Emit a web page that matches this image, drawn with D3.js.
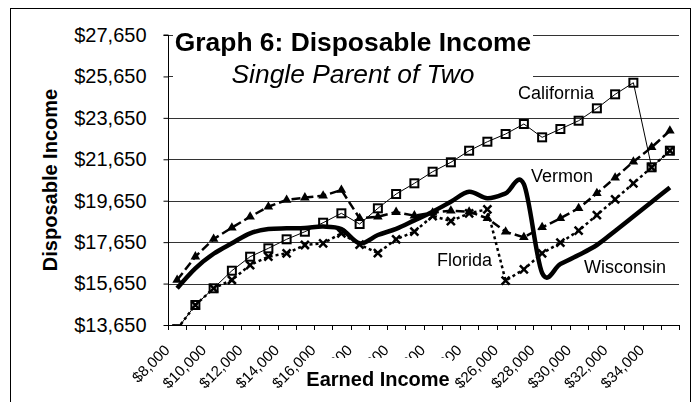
<!DOCTYPE html>
<html><head><meta charset="utf-8">
<script src="https://cdn.jsdelivr.net/npm/d3@7"></script>
<style>
html,body{margin:0;padding:0;background:#fff;}
svg{display:block;font-family:"Liberation Sans",Arial,sans-serif;}
.xl{opacity:0.999;will-change:transform;}
</style></head>
<body><svg id="c" width="698" height="402"></svg>
<script>
// ---- data ----
const categories = d3.range(8000, 35001, 1000);
const xTickLabels = ["$8,000","$10,000","$12,000","$14,000","$16,000","$18,000","$20,000","$22,000","$24,000","$26,000","$28,000","$30,000","$32,000","$34,000"];
const yTicks = [13650,15650,17650,19650,21650,23650,25650,27650];
const california = [13450,14615,15422,16271,16947,17352,17787,18153,18588,19042,18525,19283,19973,20490,21050,21504,22064,22498,22870,23353,22710,23111,23512,24110,24786,25346,21263,22064];
const vermont    = [15822,16950,17800,18347,18878,19360,19684,19800,19891,20166,18800,18878,19100,18930,19071,19168,19120,18800,18153,17883,18366,18800,19283,20007,20760,21533,22228,23029];
const florida    = [13450,14615,15422,15822,16546,16947,17111,17512,17594,18076,17530,17125,17787,18153,18911,18670,19042,19235,15788,16339,17111,17622,18201,18959,19717,20490,21263,22064];
const wisconsin  = [15422,16387,17090,17594,18076,18284,18316,18330,18400,18280,17594,17995,18290,18700,19120,19600,20084,19766,20007,20450,16160,16595,17029,17512,18192,18890,19590,20290];
const seriesLabels = ["California","Vermon","Florida","Wisconsin"];

const svg = d3.select("#c");
const L=168, R=679, T=35, B=325;
const x = d3.scaleBand().domain(categories).range([L,R]).padding(0);
const cx = d => x(d) + x.bandwidth()/2;
const y = d3.scaleLinear().domain([13650,27650]).range([B,T]);

// outer frame
svg.append("rect").attr("x",10.5).attr("y",8.5).attr("width",680).attr("height",420)
  .attr("fill","none").attr("stroke","#000").attr("stroke-width",1);

// gridlines
svg.append("g").selectAll("line").data(yTicks.slice(1)).join("line")
  .attr("x1",L).attr("x2",R).attr("y1",d=>Math.round(y(d))+0.5).attr("y2",d=>Math.round(y(d))+0.5)
  .attr("stroke","#333").attr("stroke-width",1);

// y axis
const yAxis = d3.axisLeft(y).tickValues(yTicks).tickSize(5).tickPadding(17)
  .tickFormat(d=>"$"+d3.format(",")(d));
const ga = svg.append("g").attr("transform",`translate(${L+0.5},0)`).call(yAxis);
ga.select(".domain").attr("stroke","#000").attr("d",`M-5,${T}H0V${B}`);
ga.selectAll("text").attr("font-size",20).attr("font-family","Liberation Sans, Arial, sans-serif").attr("fill","#000");
ga.selectAll("line").attr("stroke","#000");

// x axis
const gx = svg.append("g");
gx.append("line").attr("x1",L).attr("x2",R).attr("y1",B+0.5).attr("y2",B+0.5).attr("stroke","#000");
const bounds = categories.map(c=>x(c)).concat([x.range()[1]]);
gx.selectAll("line.tk").data(bounds).join("line").attr("class","tk")
  .attr("x1",d=>Math.round(d)+0.5).attr("x2",d=>Math.round(d)+0.5).attr("y1",B).attr("y2",B+5)
  .attr("stroke","#000");
const labelCats = categories.filter((c,i)=>i%2===0);
gx.append("g").attr("class","xl").selectAll("text").data(labelCats).join("text")
  .attr("transform",(d)=>`translate(${cx(d)-6.5},351) rotate(-45)`)
  .attr("text-anchor","end").attr("font-size",15).attr("fill","#000")
  .text((d,i)=>xTickLabels[i]);

// plot
const plot = svg.append("g");
svg.append("clipPath").attr("id","clip").append("rect").attr("x",L).attr("y",T-20).attr("width",R-L+10).attr("height",B-T+20);
plot.attr("clip-path","url(#clip)");

const lineLin = d3.line().x((d,i)=>cx(categories[i])).y(d=>y(d));
const lineSmooth = d3.line().x((d,i)=>cx(categories[i])).y(d=>y(d)).curve(d3.curveCardinal.tension(0));

// California
plot.append("path").attr("d",lineLin(california)).attr("fill","none").attr("stroke","#000").attr("stroke-width",1);
plot.append("g").selectAll("rect").data(california).join("rect")
  .attr("x",(d,i)=>cx(categories[i])-4).attr("y",d=>y(d)-4).attr("width",8).attr("height",8)
  .attr("fill","none").attr("stroke","#000").attr("stroke-width",2);

// Vermont
plot.append("path").attr("d",lineLin(vermont)).attr("fill","none").attr("stroke","#000").attr("stroke-width",2.5)
  .attr("stroke-dasharray","9,4");
plot.append("g").selectAll("path").data(vermont).join("path")
  .attr("d",d3.symbol(d3.symbolTriangle,40))
  .attr("transform",(d,i)=>`translate(${cx(categories[i])},${y(d)})`).attr("fill","#000");

// Florida
plot.append("path").attr("d",lineLin(florida)).attr("fill","none").attr("stroke","#000").attr("stroke-width",2.5)
  .attr("stroke-dasharray","3,3");
plot.append("g").selectAll("path").data(florida).join("path")
  .attr("d",(d,i)=>{const X=cx(categories[i]),Y=y(d);return `M${X-4},${Y-4}L${X+4},${Y+4}M${X-4},${Y+4}L${X+4},${Y-4}`;})
  .attr("stroke","#000").attr("stroke-width",2.5).attr("fill","none");

// Wisconsin
plot.append("path").attr("d",lineSmooth(wisconsin)).attr("fill","none").attr("stroke","#000").attr("stroke-width",4.5)
  .attr("stroke-linejoin","round");

// title box
svg.append("rect").attr("x",173).attr("y",18).attr("width",360).attr("height",82).attr("fill","#fff");
svg.append("text").attr("x",353).attr("y",50.5).attr("text-anchor","middle").attr("font-size",26.4)
  .attr("font-weight","bold").text("Graph 6: Disposable Income");
svg.append("text").attr("x",353).attr("y",83).attr("text-anchor","middle").attr("font-size",26.4)
  .attr("font-style","italic").text("Single Parent of Two");

// series labels
const lab = [[518,99.3],[531,181.7],[437,266],[584,273.3]];
svg.append("g").selectAll("text").data(seriesLabels).join("text")
  .attr("x",(d,i)=>lab[i][0]).attr("y",(d,i)=>lab[i][1]).attr("font-size",18).text(d=>d);

// x axis title
svg.append("rect").attr("x",306).attr("y",358).attr("width",146).attr("height",44).attr("fill","#fff");
svg.append("text").attr("x",378).attr("y",386).attr("text-anchor","middle").attr("font-size",20)
  .attr("font-weight","bold").text("Earned Income");
// y axis title
svg.append("text").attr("transform","translate(57,180) rotate(-90)").attr("text-anchor","middle")
  .attr("font-size",20).attr("font-weight","bold").text("Disposable Income");
</script></body></html>
